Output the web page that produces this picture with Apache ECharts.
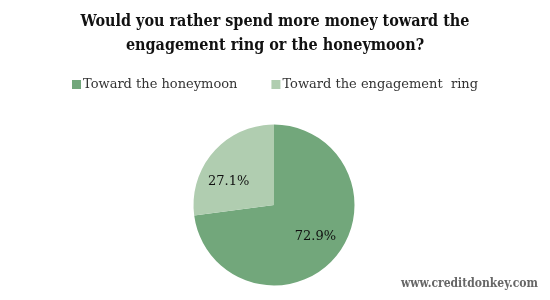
<!DOCTYPE html>
<html><head><meta charset="utf-8">
<script src="https://cdn.jsdelivr.net/npm/echarts@6/dist/echarts.min.js"></script>
<style>html,body{margin:0;padding:0;background:#fff}#c{width:550px;height:300px}</style>
</head><body><div id="c"></div>
<script>
const categories = ["Toward the honeymoon", "Toward the engagement  ring"];
const values = [72.9, 27.1];
const colors = ["#72a77b", "#b0cdb0"];
const titleText = "Would you rather spend more money toward the\nengagement ring or the honeymoon?";
const watermark = "www.creditdonkey.com";

const chart = echarts.init(document.getElementById('c'));
const labelOffsets = [[0, -5], [-4, 13]];
const data = categories.map((n, i) => ({ name: n, value: values[i], itemStyle: { color: colors[i] } }));
chart.setOption({
  animation: false,
  title: {
    text: titleText, left: 'center', top: 5,
    textStyle: { fontFamily: 'DejaVu Serif Condensed', fontWeight: 'bold', fontSize: 16, color: '#111', lineHeight: 24 }
  },
  legend: {
    top: 73, left: 'center', icon: 'rect', itemWidth: 9, itemHeight: 9, itemGap: 34,
    data: categories,
    textStyle: { fontFamily: 'DejaVu Serif', fontSize: 13, color: '#333', padding: [0,0,0,-3] }
  },
  graphic: [{
    type: 'text', right: 12, top: 278,
    style: { text: watermark, fontFamily: 'DejaVu Serif Condensed', fontWeight: 'bold', fontSize: 12, fill: '#666' }
  }],
  series: [{
    type: 'pie', center: [274, 205], radius: [0, 80.5], startAngle: 90, clockwise: true,
    label: { show: false }, labelLine: { show: false }, silent: true,
    data: data
  }, {
    type: 'pie', center: [274, 205], radius: [0, 104], startAngle: 90, clockwise: true,
    itemStyle: { color: 'rgba(0,0,0,0)' }, silent: true, labelLine: { show: false },
    label: { show: true, position: 'inside', formatter: p => p.value.toFixed(1) + '%', fontFamily: 'DejaVu Serif', fontSize: 13, color: '#111' },
    data: categories.map((n, i) => ({ name: n, value: values[i], itemStyle: { color: 'rgba(0,0,0,0)' }, label: { offset: labelOffsets[i] } }))
  }]
});
</script></body></html>
